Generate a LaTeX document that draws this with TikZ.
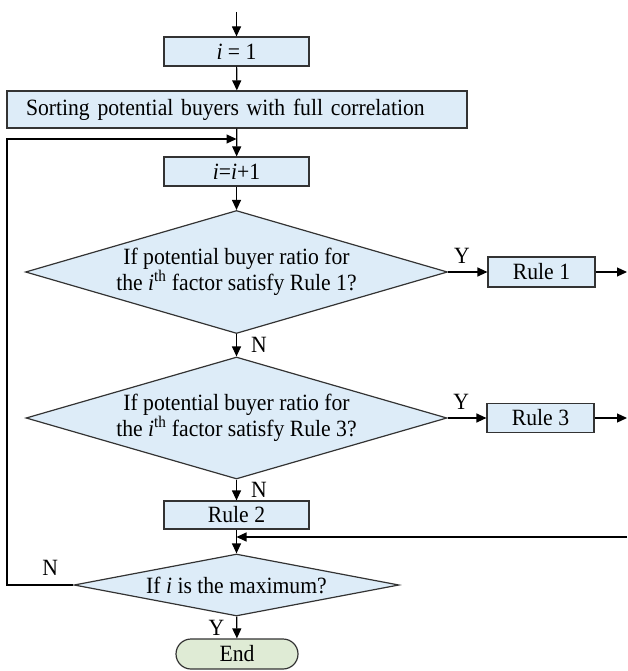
\documentclass[tikz,border=0pt]{standalone}
\usepackage{fontspec}
\setmainfont[FakeStretch=0.93]{Liberation Serif}
\usetikzlibrary{shapes.geometric,arrows.meta}
\definecolor{boxblue}{HTML}{DDECF8}
\definecolor{endgreen}{HTML}{DFEBD5}
\definecolor{edgegray}{HTML}{333333}
\tikzset{
  txt/.style={font=\fontsize{23.3}{24.5}\selectfont},
  procbox/.style={txt, draw=edgegray, line width=1.2pt, fill=boxblue, minimum width=145pt, minimum height=29pt, inner sep=0pt},
  decbox/.style={txt, diamond, draw=edgegray, line width=1.2pt, fill=boxblue, inner sep=0pt, align=center},
  endbox/.style={txt, draw=edgegray, line width=1.2pt, fill=endgreen, rounded corners=15pt, minimum width=122pt, minimum height=30pt, inner sep=0pt},
  arr/.style={-{Triangle[length=10pt,width=9pt]}, line width=1.2pt},
  lbl/.style={txt, inner sep=0pt}
}
\begin{document}
\begin{tikzpicture}[x=1pt,y=-1pt]
\useasboundingbox (0,0) rectangle (627,671);
\node[procbox] (i1) at (236.5,51.5) {\textit{i} = 1};
\node[procbox, minimum width=460pt, minimum height=37pt, text width=422pt, inner xsep=19pt, align=left] (sort) at (237,109.5) {Sorting potential buyers with full correlation};
\node[procbox] (inc) at (236.5,171.5) {\textit{i}=\textit{i}+1};
\node[decbox, aspect=3.43, minimum width=422pt, minimum height=123pt] (d1) at (236.5,272) {If potential buyer ratio for\\the \textit{i}\textsuperscript{th} factor satisfy Rule 1?};
\node[procbox, minimum width=107pt, minimum height=30pt] (r1) at (541.5,272) {Rule 1};
\node[decbox, aspect=3.43, minimum width=421pt, minimum height=122pt] (d2) at (236.5,418) {If potential buyer ratio for\\the \textit{i}\textsuperscript{th} factor satisfy Rule 3?};
\node[procbox, minimum width=107pt, minimum height=29pt] (r3) at (540.5,418) {Rule 3};
\node[procbox, minimum height=28pt] (r2) at (236.5,515) {Rule 2};
\node[decbox, aspect=5.24, minimum width=325pt, minimum height=62pt] (d3) at (236.5,585) {If \textit{i} is the maximum?};
\node[endbox] (end) at (237,654) {End};

\coordinate (top) at (236.5,12);
\coordinate (r1out) at (627,272);
\coordinate (r3out) at (627,418);
\coordinate (mergein) at (627,537);
\coordinate (merge) at (236.5,537);
\coordinate (loopB) at (7,585);
\coordinate (loopT) at (7,139);
\coordinate (loopjoin) at (236.5,139);

\draw[arr] (top) -- (i1);
\draw[arr] (i1) -- (sort);
\draw[arr] (sort) -- (inc);
\draw[arr] (inc) -- (d1);
\draw[arr] (d1) -- node[lbl, right=14pt] {N} (d2);
\draw[arr] (d1.east) -- node[lbl, pos=0.35, above=8pt] {Y} (r1.west);
\draw[arr] (r1) -- (r1out);
\draw[arr] (d2) -- node[lbl, right=14pt] {N} (r2);
\draw[arr] (d2.east) -- node[lbl, pos=0.35, above=8pt] {Y} (r3.west);
\draw[arr] (r3) -- (r3out);
\draw[arr] (r2) -- (d3);
\draw[arr] (mergein) -- (merge);
\draw[arr] (d3) -- node[lbl, left=12pt] {Y} (end);
\draw[arr] (d3.west) -- node[lbl, pos=0.35, above=9pt] {N} (loopB) -- (loopT) -- (loopjoin);
\end{tikzpicture}
\end{document}
